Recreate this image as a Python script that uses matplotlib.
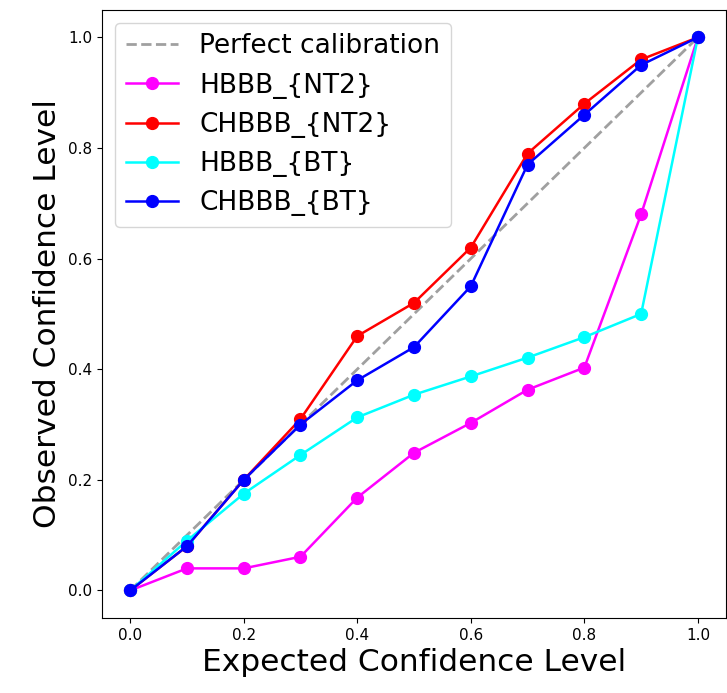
import matplotlib
matplotlib.use('Agg')
import matplotlib.pyplot as plt

# expected confidence levels
x = [0.0, 0.1, 0.2, 0.3, 0.4, 0.5, 0.6, 0.7, 0.8, 0.9, 1.0]

# observed confidence levels
hbbb_nt2 = [0.0, 0.04, 0.04, 0.061, 0.168, 0.249, 0.303, 0.363, 0.403, 0.68, 1.0]
chbbb_nt2 = [0.0, 0.08, 0.20, 0.31, 0.46, 0.52, 0.62, 0.79, 0.88, 0.96, 1.0]
hbbb_bt = [0.0, 0.09, 0.175, 0.245, 0.313, 0.354, 0.387, 0.421, 0.458, 0.50, 1.0]
chbbb_bt = [0.0, 0.08, 0.20, 0.30, 0.38, 0.44, 0.55, 0.77, 0.86, 0.95, 1.0]

fig = plt.figure(figsize=(7.27, 6.93), dpi=100)
ax = fig.add_axes([0.140, 0.108, 0.859, 0.878])

ax.plot([0, 1], [0, 1], '--', color='gray', alpha=0.75, lw=2, label='Perfect calibration')
ax.plot(x, hbbb_nt2, '-o', color='magenta', lw=1.8, ms=8.5, label='HBBB_{NT2}')
ax.plot(x, chbbb_nt2, '-o', color='red', lw=1.8, ms=8.5, label='CHBBB_{NT2}')
ax.plot(x, hbbb_bt, '-o', color='cyan', lw=1.8, ms=8.5, label='HBBB_{BT}')
ax.plot(x, chbbb_bt, '-o', color='blue', lw=1.8, ms=8.5, label='CHBBB_{BT}')

ax.set_xlabel('Expected Confidence Level', fontsize=22.5)
ax.set_ylabel('Observed Confidence Level', fontsize=22.5)
ax.tick_params(labelsize=11)
ax.legend(loc='upper left', fontsize=19)

plt.savefig('out.png', dpi=100)
